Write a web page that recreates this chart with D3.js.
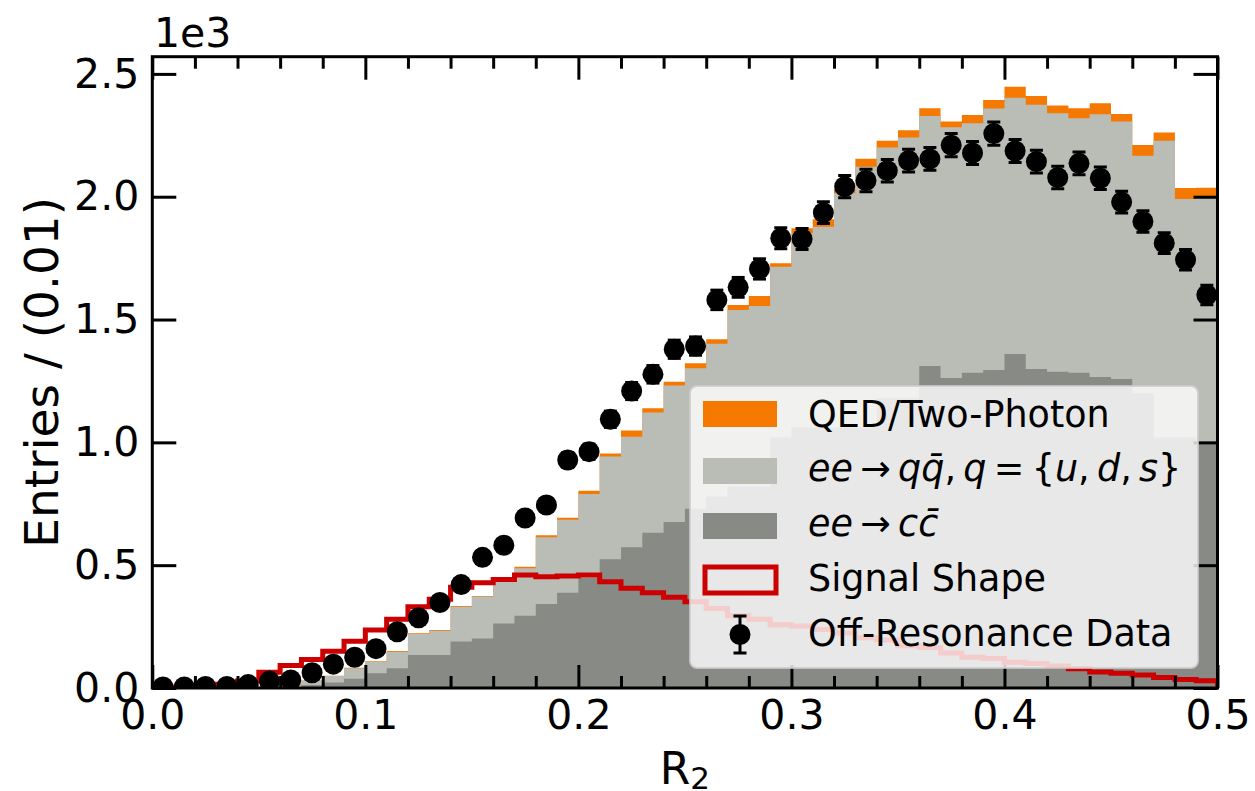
<!DOCTYPE html>
<html>
<head>
<meta charset="utf-8">
<script src="https://cdn.jsdelivr.net/npm/d3@7"></script>
<style>
body { margin: 0; background: #fff; }
svg { display: block; font-family: "DejaVu Sans", sans-serif; }
</style>
</head>
<body>
<svg width="1255" height="791"></svg>
<script>
// lower edge of each R2 bin (width 0.01)
var binLow = [0.00, 0.01, 0.02, 0.03, 0.04, 0.05, 0.06, 0.07, 0.08, 0.09,
              0.10, 0.11, 0.12, 0.13, 0.14, 0.15, 0.16, 0.17, 0.18, 0.19,
              0.20, 0.21, 0.22, 0.23, 0.24, 0.25, 0.26, 0.27, 0.28, 0.29,
              0.30, 0.31, 0.32, 0.33, 0.34, 0.35, 0.36, 0.37, 0.38, 0.39,
              0.40, 0.41, 0.42, 0.43, 0.44, 0.45, 0.46, 0.47, 0.48, 0.49];

// entries per bin, in units of 1e3
var ccbar = [0, 0, 0, 0.001, 0.002, 0.003, 0.005, 0.012, 0.022, 0.038,
             0.060, 0.080, 0.134, 0.134, 0.189, 0.202, 0.263, 0.294, 0.342, 0.388,
             0.448, 0.524, 0.573, 0.632, 0.676, 0.730, 0.780, 0.820, 0.820, 1.020,
             1.060, 1.060, 1.060, 1.060, 1.180, 1.180, 1.311, 1.262, 1.283, 1.295,
             1.360, 1.299, 1.287, 1.283, 1.266, 1.258, 1.200, 1.020, 1.020, 1.000];

var qqbar = [0, 0, 0.001, 0.001, 0.002, 0.005, 0.009, 0.018, 0.027, 0.042,
             0.047, 0.068, 0.086, 0.099, 0.142, 0.170, 0.180, 0.193, 0.272, 0.297,
             0.342, 0.418, 0.450, 0.490, 0.555, 0.572, 0.621, 0.719, 0.735, 0.695,
             0.791, 0.818, 0.954, 1.062, 1.020, 1.061, 1.018, 1.021, 1.016, 1.064,
             1.043, 1.075, 1.053, 1.036, 1.070, 1.048, 0.967, 1.208, 0.971, 1.000];

var qed = [0, 0, 0, 0, 0, 0, 0.001, 0.001, 0.001, 0.002,
           0.002, 0.003, 0.003, 0.003, 0.003, 0.003, 0.004, 0.007, 0.008, 0.008,
           0.013, 0.013, 0.025, 0.017, 0.016, 0.020, 0.019, 0.020, 0.041, 0.014,
           0.021, 0.030, 0.017, 0.033, 0.028, 0.030, 0.031, 0.023, 0.034, 0.035,
           0.045, 0.036, 0.031, 0.041, 0.045, 0.031, 0.044, 0.033, 0.044, 0.037];

var signal = [0.003, 0.004, 0.008, 0.015, 0.028, 0.064, 0.092, 0.116, 0.150, 0.190,
              0.236, 0.280, 0.331, 0.361, 0.410, 0.428, 0.442, 0.460, 0.453, 0.456,
              0.460, 0.433, 0.406, 0.388, 0.369, 0.351, 0.324, 0.294, 0.280, 0.257,
              0.252, 0.238, 0.224, 0.205, 0.195, 0.172, 0.165, 0.142, 0.125, 0.120,
              0.105, 0.100, 0.090, 0.078, 0.065, 0.060, 0.053, 0.043, 0.035, 0.030];

var offres = [0.004, 0.004, 0.006, 0.006, 0.014, 0.028, 0.033, 0.062, 0.097, 0.125,
              0.160, 0.229, 0.286, 0.348, 0.421, 0.532, 0.581, 0.692, 0.745, 0.928,
              0.962, 1.094, 1.209, 1.277, 1.379, 1.392, 1.580, 1.631, 1.706, 1.831,
              1.828, 1.935, 2.041, 2.066, 2.106, 2.147, 2.154, 2.210, 2.178, 2.257,
              2.186, 2.143, 2.078, 2.136, 2.075, 1.978, 1.899, 1.811, 1.743, 1.600];

var offresErr = [0.002, 0.002, 0.0024, 0.0024, 0.0037, 0.0053, 0.0057, 0.0079, 0.0098, 0.0112,
                 0.0126, 0.0151, 0.0169, 0.0187, 0.0205, 0.0231, 0.0241, 0.0263, 0.0273, 0.0305,
                 0.031, 0.0331, 0.0348, 0.0357, 0.0371, 0.0373, 0.0397, 0.0404, 0.0413, 0.0428,
                 0.0428, 0.044, 0.0452, 0.0455, 0.0459, 0.0463, 0.0464, 0.047, 0.0467, 0.0475,
                 0.0468, 0.0463, 0.0456, 0.0462, 0.0456, 0.0445, 0.0436, 0.0426, 0.0417, 0.040];

var xMajor = [0, 0.1, 0.2, 0.3, 0.4, 0.5],
    xMinor = [0.02, 0.04, 0.06, 0.08, 0.12, 0.14, 0.16, 0.18, 0.22, 0.24, 0.26, 0.28,
              0.32, 0.34, 0.36, 0.38, 0.42, 0.44, 0.46, 0.48],
    yTicks = [0, 0.5, 1.0, 1.5, 2.0, 2.5];

var svg = d3.select("svg"),
    margin = {top: 56.7, right: 37.5, bottom: 103, left: 152.3},
    width = +svg.attr("width") - margin.left - margin.right,
    height = +svg.attr("height") - margin.top - margin.bottom,
    g = svg.append("g").attr("transform", "translate(" + margin.left + "," + margin.top + ")");

var x = d3.scaleLinear().domain([0, 0.5]).range([0, width]),
    y = d3.scaleLinear().domain([0, 2.57]).range([height, 0]);

svg.append("defs").append("clipPath").attr("id", "plotclip")
  .append("rect").attr("width", width).attr("height", height);

var plot = g.append("g").attr("clip-path", "url(#plotclip)");

// stacked backgrounds, drawn as cumulative areas from zero (no seams)
var rows = binLow.map(function(b, i) {
  return {x: b, cc: ccbar[i], qq: qqbar[i], qed: qed[i]};
});
rows.push({x: 0.5, cc: ccbar[49], qq: qqbar[49], qed: qed[49]});

var layers = d3.stack().keys(["cc", "qq", "qed"])(rows);
var fills = {cc: "#888a85", qq: "#babdb6", qed: "#f57900"};

var area = d3.area()
    .curve(d3.curveStepAfter)
    .x(function(d) { return x(d.data.x); })
    .y0(y(0))
    .y1(function(d) { return y(d[1]); });

plot.selectAll(".layer")
  .data(layers.slice().reverse())
  .enter().append("path")
    .attr("class", "layer")
    .attr("d", area)
    .attr("fill", function(d) { return fills[d.key]; });

// signal shape as step outline
var sigPts = [{x: 0, v: 0}].concat(binLow.map(function(b, i) { return {x: b, v: signal[i]}; }));
sigPts.push({x: 0.5, v: signal[49]}, {x: 0.5, v: 0});

var line = d3.line()
    .curve(d3.curveStepAfter)
    .x(function(d) { return x(d.x); })
    .y(function(d) { return y(d.v); });

plot.append("path")
    .attr("d", line(sigPts))
    .attr("fill", "none")
    .attr("stroke", "#cc0000")
    .attr("stroke-width", 5);

// off-resonance data with error bars
var pts = plot.selectAll(".pt")
  .data(offres.map(function(v, i) { return {x: binLow[i] + 0.005, v: v, e: offresErr[i]}; }))
  .enter().append("g").attr("class", "pt");

pts.append("line")
    .attr("x1", function(d) { return x(d.x); })
    .attr("x2", function(d) { return x(d.x); })
    .attr("y1", function(d) { return y(d.v - d.e); })
    .attr("y2", function(d) { return y(d.v + d.e); })
    .attr("stroke", "#000").attr("stroke-width", 3);

[-1, 1].forEach(function(s) {
  pts.append("line")
      .attr("x1", function(d) { return x(d.x) - 6.5; })
      .attr("x2", function(d) { return x(d.x) + 6.5; })
      .attr("y1", function(d) { return y(d.v + s * d.e); })
      .attr("y2", function(d) { return y(d.v + s * d.e); })
      .attr("stroke", "#000").attr("stroke-width", 3);
});

pts.append("circle")
    .attr("cx", function(d) { return x(d.x); })
    .attr("cy", function(d) { return y(d.v); })
    .attr("r", 10.5)
    .attr("fill", "#000");

// axes, ticks pointing inward on all four sides
var fmt = d3.format(".1f");

function styleAxis(sel) {
  sel.select(".domain").remove();
  sel.selectAll(".tick line").attr("stroke", "#000").attr("stroke-width", 3);
  sel.selectAll(".tick text").attr("fill", "#000").style("font-size", "41px")
     .style("font-family", "DejaVu Sans");
}

g.append("g").attr("transform", "translate(0," + height + ")")
    .call(d3.axisBottom(x).tickValues(xMajor).tickSize(-23).tickPadding(12).tickFormat(fmt))
    .call(styleAxis);
g.append("g").attr("transform", "translate(0," + height + ")")
    .call(d3.axisBottom(x).tickValues(xMinor).tickSize(-12).tickFormat(""))
    .call(styleAxis);
g.append("g")
    .call(d3.axisTop(x).tickValues(xMajor).tickSize(-23).tickFormat(""))
    .call(styleAxis);
g.append("g")
    .call(d3.axisTop(x).tickValues(xMinor).tickSize(-12).tickFormat(""))
    .call(styleAxis);
g.append("g")
    .call(d3.axisLeft(y).tickValues(yTicks).tickSize(-24).tickPadding(13).tickFormat(fmt))
    .call(styleAxis);
g.append("g").attr("transform", "translate(" + width + ",0)")
    .call(d3.axisRight(y).tickValues(yTicks).tickSize(-24).tickFormat(""))
    .call(styleAxis);

g.append("rect")
    .attr("width", width).attr("height", height)
    .attr("fill", "none").attr("stroke", "#000").attr("stroke-width", 3);

// offset text and axis labels
svg.append("text")
    .attr("x", 154).attr("y", 47)
    .style("font-size", "41px")
    .text("1e3");

svg.append("text")
    .attr("transform", "translate(58," + (margin.top + height / 2) + ") rotate(-90)")
    .attr("text-anchor", "middle")
    .style("font-size", "47px")
    .text("Entries / (0.01)");

var xl = svg.append("text")
    .attr("x", margin.left + width / 2).attr("y", 784)
    .attr("text-anchor", "middle")
    .style("font-size", "44px");
xl.append("tspan").text("R");
xl.append("tspan").attr("dy", 5).style("font-size", "31px").text("2");

// legend
var leg = svg.append("g");
leg.append("rect")
    .attr("x", 690).attr("y", 386).attr("width", 508).attr("height", 282).attr("rx", 7)
    .attr("fill", "#fff").attr("fill-opacity", 0.8)
    .attr("stroke", "#ccc").attr("stroke-opacity", 0.8).attr("stroke-width", 2);

var rowY = [427, 481, 536, 591, 646];

leg.append("rect").attr("x", 703).attr("y", 401).attr("width", 74).attr("height", 26).attr("fill", fills.qed);
leg.append("rect").attr("x", 703).attr("y", 458).attr("width", 74).attr("height", 26).attr("fill", fills.qq);
leg.append("rect").attr("x", 703).attr("y", 513).attr("width", 74).attr("height", 26).attr("fill", fills.cc);
leg.append("rect").attr("x", 705).attr("y", 567).attr("width", 71).attr("height", 26)
    .attr("fill", "none").attr("stroke", "#cc0000").attr("stroke-width", 5);
leg.append("line").attr("x1", 740).attr("x2", 740).attr("y1", 616).attr("y2", 653)
    .attr("stroke", "#000").attr("stroke-width", 3);
leg.append("line").attr("x1", 733.5).attr("x2", 746.5).attr("y1", 616).attr("y2", 616)
    .attr("stroke", "#000").attr("stroke-width", 3);
leg.append("line").attr("x1", 733.5).attr("x2", 746.5).attr("y1", 653).attr("y2", 653)
    .attr("stroke", "#000").attr("stroke-width", 3);
leg.append("circle").attr("cx", 740).attr("cy", 634.5).attr("r", 10.5).attr("fill", "#000");

function legText(i) {
  return leg.append("text").attr("x", 808).attr("y", rowY[i]).style("font-size", "36.5px");
}
function parts(t, list) {
  list.forEach(function(p) {
    t.append("tspan").style("font-style", p[1] ? "italic" : "normal").text(p[0]);
  });
}

var th = "\u2009";
legText(0).text("QED/Two-Photon");
parts(legText(1), [["ee", 1], [th + "\u2192" + th, 0], ["qq\u0304", 1], ["," + th, 0], ["q", 1],
                   [th + "=" + th + "{", 0], ["u", 1], ["," + th, 0], ["d", 1], ["," + th, 0], ["s", 1], ["}", 0]]);
parts(legText(2), [["ee", 1], [th + "\u2192" + th, 0], ["cc\u0304", 1]]);
legText(3).text("Signal Shape");
legText(4).text("Off-Resonance Data");
</script>
</body>
</html>
